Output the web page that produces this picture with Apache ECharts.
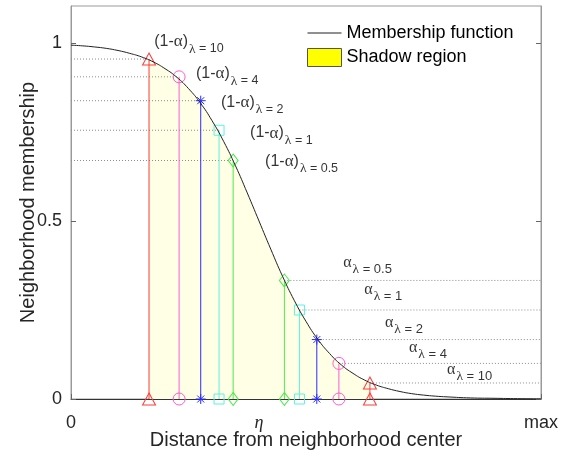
<!DOCTYPE html>
<html><head><meta charset="utf-8">
<script src="https://cdn.jsdelivr.net/npm/echarts@6/dist/echarts.min.js"></script>
<style>html,body{margin:0;padding:0;background:#fff}#c{width:569px;height:459px}</style>
</head><body><div id="c"></div>
<script>
// ---- data ----
const curveX = [0,0.25,0.5,0.75,1,1.25,1.5,1.75,2,2.25,2.5,2.75,3,3.25,3.5,3.75,4,4.25,4.5,4.75,5,5.25,5.5,5.75,6,6.25,6.5,6.75,7,7.25,7.5,7.75,8,8.5,9,9.5,10];
const curveY = [0.994,0.992,0.989,0.985,0.979,0.971,0.961,0.947,0.928,0.904,0.872,0.832,0.782,0.723,0.655,0.579,0.5,0.421,0.345,0.277,0.218,0.168,0.128,0.096,0.072,0.053,0.039,0.029,0.021,0.015,0.011,0.008,0.006,0.003,0.002,0.001,0.0005];
const lambdas = ['10','4','2','1','0.5'];
const leftX  = [1.66,2.30,2.76,3.15,3.45];
const leftY  = [0.955,0.905,0.838,0.755,0.67];
const rightX = [6.36,5.70,5.23,4.86,4.54];
const rightY = [0.045,0.10,0.167,0.25,0.333];
const xTickValues = [0,4,10];
const xTickLabels = ['0','η','max'];
const yTickValues = [0,0.5,1];
const leftLabelPos  = [[1.77,1.003],[2.66,0.913],[3.19,0.834],[3.81,0.747],[4.13,0.666]];
const rightLabelPos = [[8.00,0.081],[7.19,0.143],[6.68,0.213],[6.24,0.306],[5.79,0.382]];

// ---- styles ----
const colors = ['#ff3b3b','#ff5ad2','#2b2bff','#5cf0e4','#4fe84f'];
const ASTER = 'path://M5,0L5,10M0,5L10,5M1.5,1.5L8.5,8.5M1.5,8.5L8.5,1.5';
const LINE_ICON = 'path://M0,0L0.01,0L0,0.01ZM34,18L33.99,18L34,17.99ZM0,8.6L34,8.6L34,9.4L0,9.4Z';
const symbols = ['triangle','circle',ASTER,'rect','diamond'];
const symSizes = [[13,12],12,10,10,[10,13]];
const SANS = 'Liberation Sans, Arial, Helvetica, sans-serif';
const SERIF = 'Liberation Serif, Times New Roman, serif';
const X_MAX = 10, Y_MAX = 1.104;

const series = [];
// shadow region
const shadow = [[leftX[0], leftY[0]]];
curveX.forEach((x,i)=>{ if (x > leftX[0] && x < rightX[0]) shadow.push([x, curveY[i]]); });
shadow.push([rightX[0], rightY[0]]);
series.push({name:'Shadow region', type:'line', data:shadow, smooth:true, symbol:'none',
  lineStyle:{width:0, color:'rgba(0,0,0,0)'}, areaStyle:{color:'rgb(255,255,229)', opacity:1, origin:'start'},
  itemStyle:{color:'#ffff00'}, z:1, silent:true});
// dotted guides
for (let i=0;i<5;i++){
  series.push({type:'line', data:[[0,leftY[i]],[leftX[i],leftY[i]]], symbol:'none', z:2,
    lineStyle:{color:'#8c8c8c', width:1, type:[1,2]}, silent:true});
  series.push({type:'line', data:[[rightX[i],rightY[i]],[X_MAX,rightY[i]]], symbol:'none', z:2,
    lineStyle:{color:'#8c8c8c', width:1, type:[1,2]}, silent:true});
}
// stems
for (let i=0;i<5;i++){
  [[leftX[i],leftY[i]],[rightX[i],rightY[i]]].forEach(p=>{
    series.push({type:'line', data:[[p[0],0],[p[0],p[1]]], z:3,
      symbol:symbols[i], symbolSize:symSizes[i], showSymbol:true,
      lineStyle:{color:colors[i], width:1},
      itemStyle:{color:'rgba(0,0,0,0)', borderColor:colors[i], borderWidth:1}, silent:true});
  });
}
// membership curve
series.push({name:'Membership function', type:'line', data:curveX.map((x,i)=>[x,curveY[i]]),
  smooth:true, symbol:'none', lineStyle:{color:'#222', width:1}, itemStyle:{color:'#222'}, z:4, silent:true});
// labels
series.push({type:'scatter', symbolSize:0, z:5, silent:true,
  data:leftLabelPos,
  label:{show:true, position:'right', distance:0,
    formatter:(p)=>'{p|(1-}{a|α}{p|)}{l|λ}{s| = '+lambdas[p.dataIndex]+'}',
    rich:{
      p:{fontFamily:SANS, fontSize:16, color:'#000'},
      a:{fontFamily:SERIF, fontSize:17, color:'#000'},
      l:{fontFamily:SERIF, fontSize:13.5, color:'#000', padding:[14,0,0,1]},
      s:{fontFamily:SANS, fontSize:12.5, color:'#000', padding:[14,0,0,0]}
    }}});
series.push({type:'scatter', symbolSize:0, z:5, silent:true,
  data:rightLabelPos,
  label:{show:true, position:'right', distance:0,
    formatter:(p)=>'{a|α}{l|λ}{s| = '+lambdas[p.dataIndex]+'}',
    rich:{
      a:{fontFamily:SERIF, fontSize:16, color:'#000'},
      l:{fontFamily:SERIF, fontSize:13.5, color:'#000', padding:[12,0,0,1]},
      s:{fontFamily:SANS, fontSize:13, color:'#000', padding:[12,0,0,0]}
    }}});

const chart = echarts.init(document.getElementById('c'), null, {renderer:'canvas'});
chart.setOption({
  animation:false,
  backgroundColor:'#fff',
  grid:{left:71, right:28, top:6, bottom:60, containLabel:false, outerBoundsMode:'none',
    show:true, borderColor:'#9a9a9a', borderWidth:1, backgroundColor:'transparent'},
  legend:{orient:'vertical', left:307, top:24, padding:0, itemWidth:34, itemHeight:18, itemGap:6, selectedMode:false,
    textStyle:{fontFamily:SANS, fontSize:18, color:'#000'},
    data:[{name:'Membership function', icon:LINE_ICON, itemStyle:{color:'#222'}},
          {name:'Shadow region', icon:'rect', itemStyle:{color:'#ffff00', borderColor:'#555', borderWidth:1}}]},
  xAxis:{type:'value', min:0, max:X_MAX,
    name:'Distance from neighborhood center', nameLocation:'middle', nameGap:31, nameMoveOverlap:false,
    nameTextStyle:{fontFamily:SANS, fontSize:20, color:'#262626'},
    axisLine:{show:true, lineStyle:{color:'#333', width:1}},
    axisTick:{show:true, inside:true, length:5, customValues:xTickValues, lineStyle:{color:'#666'}},
    axisLabel:{show:true, margin:15, customValues:xTickValues, fontFamily:SANS, fontSize:18, color:'#262626',
      formatter:(v)=>{const i=xTickValues.indexOf(v); return xTickLabels[i]==='η' ? '{e|η}' : xTickLabels[i];},
      rich:{e:{fontFamily:SERIF, fontStyle:'italic', fontSize:18, color:'#262626'}}},
    splitLine:{show:false}},
  yAxis:[{type:'value', min:0, max:Y_MAX,
    name:'Neighborhood membership', nameLocation:'middle', nameGap:33, nameMoveOverlap:false,
    nameTextStyle:{fontFamily:SANS, fontSize:20, color:'#262626'},
    axisLine:{show:true, lineStyle:{color:'#9a9a9a'}},
    axisTick:{show:true, inside:true, length:5, customValues:yTickValues, lineStyle:{color:'#666'}},
    axisLabel:{show:true, margin:9, customValues:yTickValues, fontFamily:SANS, fontSize:18, color:'#262626'},
    splitLine:{show:false}},
   {type:'value', min:0, max:Y_MAX, position:'right',
    axisLine:{show:true, lineStyle:{color:'#9a9a9a'}},
    axisTick:{show:true, inside:true, length:5, customValues:yTickValues, lineStyle:{color:'#666'}},
    axisLabel:{show:false}, splitLine:{show:false}}],
  series:series
});
</script></body></html>
